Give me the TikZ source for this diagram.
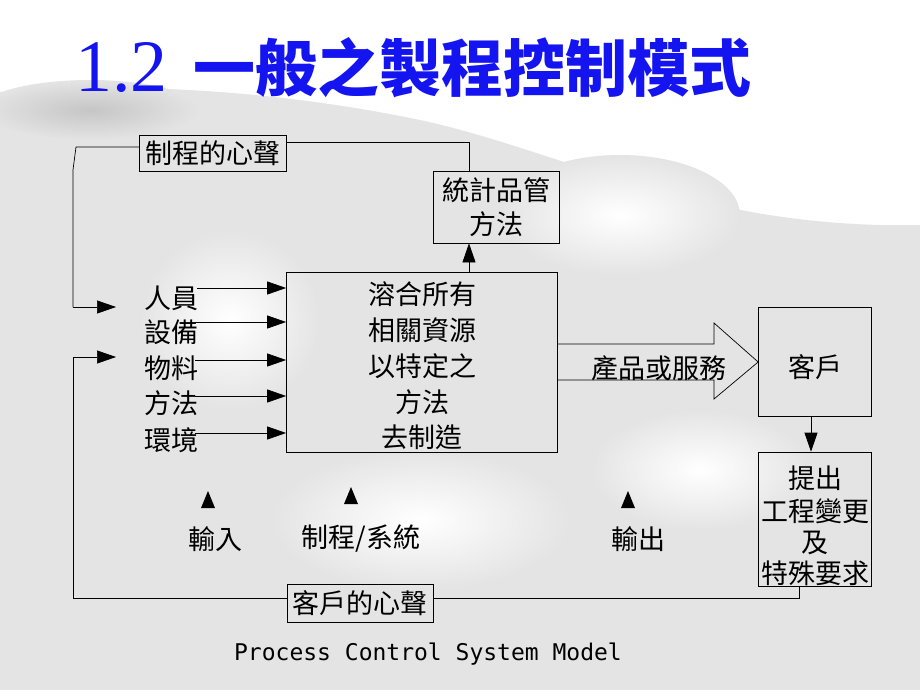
\documentclass[tikz,border=0pt]{standalone}
\usepackage{fontspec}
\newfontfamily\cjk{Noto Sans CJK TC}
\newfontfamily\numserif{Liberation Serif}
\newfontfamily\capmono{DejaVu Sans Mono}
\usetikzlibrary{arrows.meta,calc}
\definecolor{bgray}{RGB}{228,228,228}
\definecolor{titleblue}{RGB}{20,20,240}
\begin{document}
\begin{tikzpicture}[x=1pt,y=-1pt,
  txt/.style={font=\cjk\fontsize{27}{35}\selectfont, inner sep=0pt, align=center},
  boxed/.style={draw, line width=0.7pt, inner sep=0pt, align=center, font=\cjk\fontsize{27}{35}\selectfont},
  link/.style={line width=0.7pt},
  arr/.style={line width=0.7pt, -{Triangle[length=19pt,width=13pt]}}]
\useasboundingbox (0,0) rectangle (920,690);
% background wash
\fill[white] (0,0) rectangle (920,690);
\fill[bgray] (0,92) .. controls (150,80) and (300,95) .. (420,120)
  .. controls (560,150) and (700,230) .. (920,225) -- (920,690) -- (0,690) -- cycle;
\shade[inner color=gray!45, outer color=bgray] (90,110) ellipse (110 and 30);
\shade[inner color=white, outer color=bgray] (620,215) ellipse (120 and 60);
\shade[inner color=white, outer color=bgray] (420,520) ellipse (150 and 70);
\shade[inner color=white, outer color=bgray] (230,320) ellipse (90 and 90);
\shade[inner color=white, outer color=bgray] (700,470) ellipse (110 and 60);
% title
\node[anchor=west, text=titleblue, inner sep=0pt] (title) at (75,68)
  {\numserif\fontsize{74}{80}\selectfont 1.2\hspace{26pt}{\cjk\bfseries\fontsize{62}{80}\selectfont 一般之製程控制模式}};
% boxes
\node[boxed, minimum width=147pt, minimum height=36pt] (voiceP) at (213,153) {制程的心聲};
\node[boxed, minimum width=126pt, minimum height=72pt, font=\cjk\fontsize{27}{34}\selectfont] (spc) at (496,207) {統計品管\\方法};
\node[draw, line width=0.7pt, minimum width=271pt, minimum height=180pt, inner sep=0pt] (main) at (422,362) {};
\node[txt] (m1) at (422,294) {溶合所有};
\node[txt] (m2) at (422,330) {相關資源};
\node[txt] (m3) at (422,366) {以特定之};
\node[txt] (m4) at (422,402) {方法};
\node[txt] (m5) at (422,437) {去制造};
\node[draw, line width=0.7pt, minimum width=113pt, minimum height=109pt, inner sep=0pt] (cust) at (815,362) {};
\node[txt] (custt) at (815,367) {客戶};
\node[draw, line width=0.7pt, minimum width=113pt, minimum height=134pt, inner sep=0pt] (req) at (815,519) {};
\node[txt] (r1) at (815,478) {提出};
\node[txt] (r2) at (815,511) {工程變更};
\node[txt] (r3) at (815,543) {及};
\node[txt] (r4) at (815,573) {特殊要求};
\node[boxed, minimum width=146pt, minimum height=38pt] (voiceC) at (360,603) {客戶的心聲};
% inputs
\node[txt, anchor=west] (i1) at (144,298) {人員};
\node[txt, anchor=west] (i2) at (144,332) {設備};
\node[txt, anchor=west] (i3) at (144,368) {物料};
\node[txt, anchor=west] (i4) at (144,403) {方法};
\node[txt, anchor=west] (i5) at (144,440) {環境};
\coordinate (a1) at (197,288);
\coordinate (a2) at (195,322);
\coordinate (a3) at (195,360);
\coordinate (a4) at (195,396);
\coordinate (a5) at (195,433);
\draw[arr] (a1) -- (main.west |- a1);
\draw[arr] (a2) -- (main.west |- a2);
\draw[arr] (a3) -- (main.west |- a3);
\draw[arr] (a4) -- (main.west |- a4);
\draw[arr] (a5) -- (main.west |- a5);
% feedback loops
\coordinate (pl1) at (76,147);
\coordinate (pl2) at (73,170);
\coordinate (pl3) at (73,307);
\coordinate (pt) at (116,307);
\draw[link] (voiceP.west |- pl1) -- (pl1) -- (pl2) -- (pl3);
\draw[arr] (pl3) -- (pt);
\coordinate (sp1) at (469,142);
\draw[link] (voiceP.east |- sp1) -- (sp1) -- (sp1 |- spc.north);
\draw[arr] (main.north -| sp1) -- (spc.south -| sp1);
\coordinate (cl1) at (73,357);
\coordinate (cl2) at (73,598);
\coordinate (ct) at (116,357);
\coordinate (cr) at (799,598);
\draw[arr] (cl1) -- (ct);
\draw[link] (cl1) -- (cl2) -- (voiceC.west |- cl2);
\draw[link] (voiceC.east |- cr) -- (cr) -- (cr |- req.south);
% customer to requirements
\draw[arr] (cust.south -| 811,0) -- (req.north -| 811,0);
% block arrow
\draw[line width=0.7pt]
  ($(main.east)+(0,-18)$) -- (714,344) -- (714,323) -- (cust.west) -- (714,399) -- (714,380) -- ($(main.east)+(0,18)$);
\node[txt] (prod) at (659,368) {產品或服務};
% markers
\fill (208,491) -- (215,508) -- (201,508) -- cycle;
\fill (351,487) -- (358,504) -- (344,504) -- cycle;
\fill (628,491) -- (635,508) -- (621,508) -- cycle;
\node[txt] (lin) at (215,539) {輸入};
\node[txt] (lproc) at (361,539) {制程/系統};
\node[txt] (lout) at (638,539) {輸出};
% caption
\node[inner sep=0pt, font=\capmono\fontsize{23}{28}\selectfont] (cap) at (428,654) {Process Control System Model};
\end{tikzpicture}
\end{document}
